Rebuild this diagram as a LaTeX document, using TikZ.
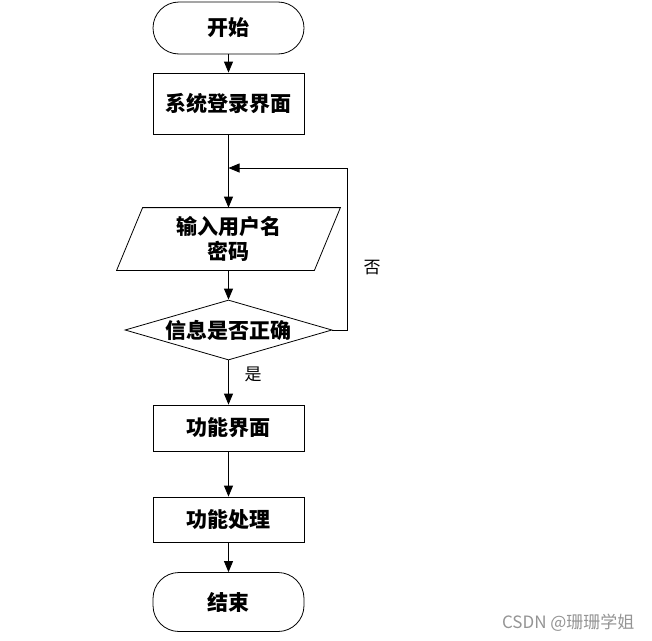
\documentclass[tikz,border=0pt]{standalone}
\usepackage{fontspec}
\newfontfamily\cjk{Noto Sans CJK SC}
\usetikzlibrary{shapes.geometric,arrows.meta,calc}
\begin{document}
\begin{tikzpicture}[x=1pt,y=-1pt,
  base/.style={draw, line width=0.8pt, inner sep=0pt, font=\cjk\bfseries\fontsize{21}{25}\selectfont, align=center},
  term/.style={base, minimum width=151pt, rounded corners=26pt},
  proc/.style={base, rectangle, minimum width=151pt},
  dec/.style={base, diamond, aspect=3.45, minimum width=207pt, minimum height=60pt},
  arr/.style={line width=0.8pt, -{Triangle[length=11pt,width=9pt]}},
  lbl/.style={font=\cjk\fontsize{17}{20}\selectfont}]
\useasboundingbox (0,0) rectangle (652,640);
\node[term, minimum height=52pt] (start) at (228.5,28) {开始};
\node[proc, minimum height=61pt] (login) at (228.5,103.5) {系统登录界面};
\node[base, draw=none, minimum width=223pt, minimum height=62pt] (input) at (228.5,239) {输入用户名\\密码};
\draw[line width=0.8pt] ([xshift=26pt]input.north west) -- (input.north east) -- ([xshift=-26pt]input.south east) -- (input.south west) -- cycle;
\node[dec] (check) at (228.5,330) {信息是否正确};
\node[proc, minimum height=46pt] (func) at (228.5,428) {功能界面};
\node[proc, minimum height=45pt] (proc) at (228.5,519.5) {功能处理};
\node[term, minimum height=59pt] (end) at (228.5,602) {结束};
\coordinate (join) at (228.5,168);
\coordinate (corner) at (347,168);
\draw[arr] (start) -- (login);
\draw[arr] (login) -- (input.north);
\draw[arr] (input.south) -- (check.north);
\draw[arr] (check.east) -| (corner) -- (join);
\draw[arr] (check.south) -- (func);
\draw[arr] (func) -- (proc);
\draw[arr] (proc) -- (end);
\node[lbl] (no) at (372,268) {否};
\node[lbl] (yes) at (253,374) {是};
\node[font=\cjk\fontsize{17}{20}\selectfont, text=black!42, anchor=east] (wm) at (638,623) {CSDN @珊珊学姐};
\end{tikzpicture}
\end{document}
